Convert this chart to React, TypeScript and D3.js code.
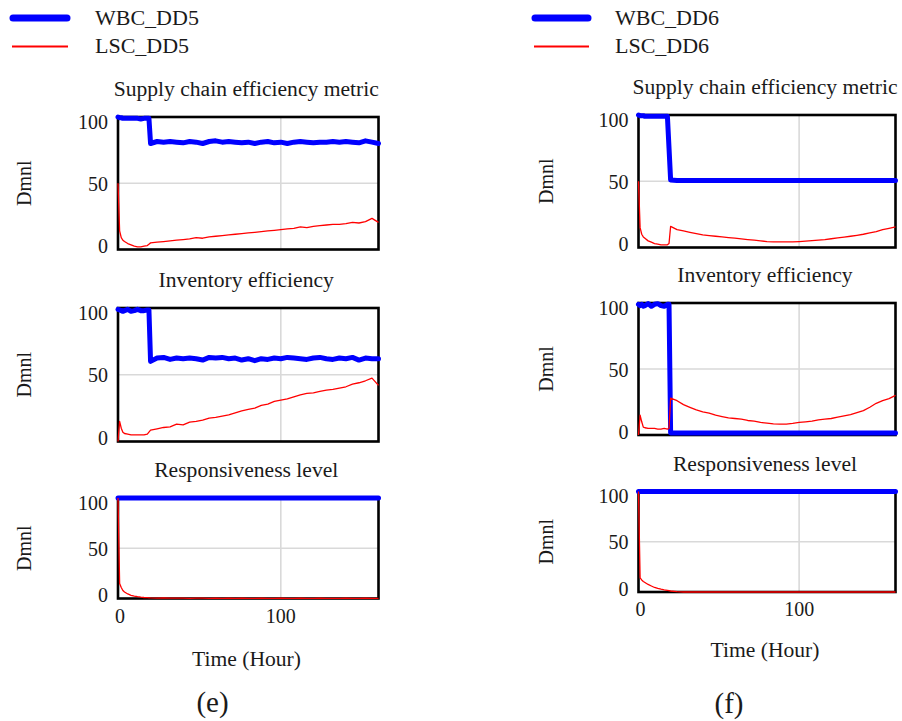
import React from "react";
import * as d3 from "d3";

const hours = [0, 1, 2, 3, 4, 6, 8, 10, 12, 14, 16, 18, 19, 20, 24, 28, 32, 36, 40, 44, 48, 52, 56, 60, 64, 68, 72, 76, 80, 84, 88, 92, 96, 100, 104, 108, 112, 116, 120, 124, 128, 132, 136, 140, 144, 148, 152, 156, 160];

const yTicks = [0, 50, 100];
const xTicks = [0, 100];
const chartTitles = ["Supply chain efficiency metric", "Inventory efficiency", "Responsiveness level"];
const legendE = ["WBC_DD5", "LSC_DD5"];
const legendF = ["WBC_DD6", "LSC_DD6"];
const unitLabel = "Dmnl";
const xAxisLabel = "Time (Hour)";
const panelLabels = ["(e)", "(f)"];

// ---- Panel (e) ----
const wbcE_supply = [100, 99.5, 99.5, 99, 99, 99, 99, 99, 99, 98.5, 99, 99, 99,
  80, 81.5, 81, 81.5, 81, 80.5, 81.5, 81, 80, 81.5,
  82, 81, 81.5, 81, 80.5, 81, 80, 81, 81.5, 80.5,
  81, 80, 81, 81.5, 81, 80.5, 81, 81, 81.5, 81,
  81.5, 81, 80.5, 82, 81, 80];
const lscE_supply = [50, 14, 9, 7, 6, 4.5, 3.5, 2.5, 2, 2, 2.5, 3, 4,
  5, 5.5, 6, 6.5, 7, 7.5, 8, 9, 8.5, 9.5,
  10, 10.5, 11, 11.5, 12, 12.5, 13, 13.5, 14, 14.5,
  15, 15.5, 16, 17, 16.5, 17.5, 18, 18.5, 19, 19,
  19.5, 20.5, 20, 21, 23.5, 20.5];

const wbcE_inv = [99, 98.5, 98, 97.5, 98, 99, 97.5, 98, 99, 98, 98, 98.5, 98.5,
  60, 62.5, 63, 61.5, 62.5, 62, 62.5, 62, 61, 63,
  62.5, 63, 62, 62.5, 61, 62, 60.5, 62, 61.5, 62.5,
  62, 63, 62.5, 62, 61.5, 62.5, 63, 62, 61.5, 62.5,
  62, 63, 61, 62.5, 62, 62];
const lscE_inv = [0, 15, 10, 7, 6, 5.5, 5, 5, 5, 5, 5, 5.5, 7,
  8.5, 9.5, 10.5, 11, 13, 12.5, 14.5, 15, 16, 17.5,
  18, 19, 20, 21.5, 23, 24, 25, 27, 28, 30,
  31, 32, 33.5, 35, 36, 36.5, 37.5, 38.5, 39, 40,
  41, 43, 44, 45.5, 47.5, 42];

const wbcE_resp = [100, 100, 100, 100, 100, 100, 100, 100, 100, 100, 100, 100, 100,
  100, 100, 100, 100, 100, 100, 100, 100, 100, 100,
  100, 100, 100, 100, 100, 100, 100, 100, 100, 100,
  100, 100, 100, 100, 100, 100, 100, 100, 100, 100,
  100, 100, 100, 100, 100, 100];
const lscE_resp = [100, 15, 11, 8, 6.5, 4.5, 3.2, 2.4, 1.8, 1.3, 1, 0.8, 0.7,
  0.6, 0.4, 0.5, 0.3, 0.4, 0.3, 0.2, 0.4, 0.3, 0.2,
  0.3, 0.2, 0.3, 0.2, 0.3, 0.2, 0.2, 0.3, 0.2, 0.2,
  0.3, 0.2, 0.2, 0.3, 0.2, 0.2, 0.3, 0.2, 0.2, 0.2,
  0.3, 0.2, 0.2, 0.3, 0.2, 0.2];

// ---- Panel (f) ----
const wbcF_supply = [100, 99.5, 99.5, 99.5, 99, 99, 99, 99, 99, 99, 99, 99, 75,
  51, 50.5, 50.5, 50.5, 50.5, 50.5, 50.5, 50.5, 50.5, 50.5,
  50.5, 50.5, 50.5, 50.5, 50.5, 50.5, 50.5, 50.5, 50.5, 50.5,
  50.5, 50.5, 50.5, 50.5, 50.5, 50.5, 50.5, 50.5, 50.5, 50.5,
  50.5, 50.5, 50.5, 50.5, 50.5, 50.5];
const lscF_supply = [50, 15, 10, 8, 7, 5, 4, 3, 2.5, 2, 2, 2, 3,
  16, 13.5, 12.5, 11.5, 10.5, 9.5, 9, 8.5, 8, 7.5,
  7, 6.5, 6, 5.5, 5, 4.5, 4.3, 4.2, 4.2, 4.3,
  4.5, 4.8, 5.2, 5.6, 6, 6.6, 7.2, 7.8, 8.5, 9.2,
  10, 11, 12, 13.5, 14.5, 15.5];

const wbcF_inv = [99, 98, 99, 97.5, 98, 99.5, 97.5, 99, 99.5, 98, 97.5, 99, 99,
  1.5, 1.5, 1.5, 1.5, 1.5, 1.5, 1.5, 1.5, 1.5, 1.5,
  1.5, 1.5, 1.5, 1.5, 1.5, 1.5, 1.5, 1.5, 1.5, 1.5,
  1.5, 1.5, 1.5, 1.5, 1.5, 1.5, 1.5, 1.5, 1.5, 1.5,
  1.5, 1.5, 1.5, 1.5, 1.5, 1.5];
const lscF_inv = [0, 15, 10, 6, 5.5, 5, 5, 5, 4.5, 4.5, 5, 4.5, 5,
  28, 26, 23, 21, 19, 17.5, 16.5, 15, 14, 13,
  12.5, 12, 11, 10.5, 9.5, 9, 8.5, 8.3, 8.3, 8.8,
  9.5, 10, 10.5, 11.5, 12, 12.5, 13.5, 14.5, 15.5, 17,
  18.5, 21, 24, 26, 27.5, 30];

const wbcF_resp = [100, 100, 100, 100, 100, 100, 100, 100, 100, 100, 100, 100, 100,
  100, 100, 100, 100, 100, 100, 100, 100, 100, 100,
  100, 100, 100, 100, 100, 100, 100, 100, 100, 100,
  100, 100, 100, 100, 100, 100, 100, 100, 100, 100,
  100, 100, 100, 100, 100, 100];
const lscF_resp = [100, 14, 12, 10.5, 9.5, 7.5, 6, 4.5, 3.5, 2.8, 2.2, 1.7, 1.4,
  1, 0.3, 0, 0, 0, 0, 0, 0, 0, 0,
  0, 0, 0, 0, 0, 0, 0, 0, 0, 0,
  0, 0, 0, 0, 0, 0, 0, 0, 0, 0,
  0, 0, 0, 0, 0, 0];

const FONT = "'Liberation Serif', 'Times New Roman', serif";
const TEXT = "#1a1a1a";
const BLUE = "#0000ff";
const RED = "#ff0000";

type PanelProps = {
  left: number; right: number; top: number; bottom: number;
  title: string; blue: number[]; red: number[]; showX: boolean; unitX: number;
};

function Chart({ left, right, top, bottom, title, blue, red, showX, unitX }: PanelProps) {
  const x = d3.scaleLinear().domain([0, 160]).range([left, right]);
  const y = d3.scaleLinear().domain([0, 100]).range([bottom, top]);
  const line = d3.line<number>().x((_, i) => x(hours[i])).y((d) => y(d));
  const midY = (top + bottom) / 2;
  return (
    <g>
      <text x={(left + right) / 2 - 2} y={top - 21} textAnchor="middle" fontSize={21.6} fontFamily={FONT} fill={TEXT}>{title}</text>
      <line x1={left} x2={right} y1={y(50)} y2={y(50)} stroke="#d9d9d9" strokeWidth={1.6} />
      <line x1={x(100)} x2={x(100)} y1={top} y2={bottom} stroke="#d9d9d9" strokeWidth={1.6} />
      <rect x={left} y={top} width={right - left} height={bottom - top} fill="none" stroke="#000" strokeWidth={2.6} />
      {yTicks.map((t) => (
        <text key={t} x={left - 10} y={y(t) + 7.5 + (t - 50) * 0.08} textAnchor="end" fontSize={20} fontFamily={FONT} fill={TEXT}>{t}</text>
      ))}
      {showX && xTicks.map((t) => (
        <text key={t} x={x(t) + (t === 0 ? 2 : 0)} y={bottom + 24} textAnchor="middle" fontSize={20} fontFamily={FONT} fill={TEXT}>{t}</text>
      ))}
      <text transform={`translate(${unitX},${midY}) rotate(-90)`} textAnchor="middle" fontSize={20} fontFamily={FONT} fill={TEXT}>{unitLabel}</text>
      <path d={line(blue) || ""} fill="none" stroke={BLUE} strokeWidth={5} strokeLinejoin="round" strokeLinecap="round" />
      <path d={line(red) || ""} fill="none" stroke={RED} strokeWidth={1.3} strokeLinejoin="round" />
    </g>
  );
}

function Legend({ x1, x2, textX, labels }: { x1: number; x2: number; textX: number; labels: string[] }) {
  return (
    <g>
      <line x1={x1 + 3} x2={x2 - 3} y1={18} y2={18} stroke={BLUE} strokeWidth={7} strokeLinecap="round" />
      <text x={textX} y={25} fontSize={22} fontFamily={FONT} fill={TEXT}>{labels[0]}</text>
      <line x1={x1 + 2} x2={x2 - 2} y1={46.5} y2={46.5} stroke={RED} strokeWidth={1.8} />
      <text x={textX} y={53} fontSize={22} fontFamily={FONT} fill={TEXT}>{labels[1]}</text>
    </g>
  );
}

export default function App() {
  const eL = 118, eR = 378.5;
  const fL = 638.5, fR = 895.5;
  return (
    <svg width={902} height={721} style={{ position: "absolute", left: 0, top: 0, background: "#fff" }}>
      <rect x={0} y={0} width={902} height={721} fill="#fff" />
      <Legend x1={10} x2={70} textX={95} labels={legendE} />
      <Legend x1={532} x2={591} textX={615} labels={legendF} />

      <Chart left={eL} right={eR} top={117} bottom={249.5} title={chartTitles[0]} blue={wbcE_supply} red={lscE_supply} showX={false} unitX={31} />
      <Chart left={eL} right={eR} top={308} bottom={441.5} title={chartTitles[1]} blue={wbcE_inv} red={lscE_inv} showX={false} unitX={31} />
      <Chart left={eL} right={eR} top={498} bottom={598.5} title={chartTitles[2]} blue={wbcE_resp} red={lscE_resp} showX={true} unitX={31} />

      <Chart left={fL} right={fR} top={115} bottom={247.5} title={chartTitles[0]} blue={wbcF_supply} red={lscF_supply} showX={false} unitX={553} />
      <Chart left={fL} right={fR} top={303} bottom={435} title={chartTitles[1]} blue={wbcF_inv} red={lscF_inv} showX={false} unitX={553} />
      <Chart left={fL} right={fR} top={491.5} bottom={592} title={chartTitles[2]} blue={wbcF_resp} red={lscF_resp} showX={true} unitX={553} />

      <text x={246.5} y={666} textAnchor="middle" fontSize={21.6} fontFamily={FONT} fill={TEXT}>{xAxisLabel}</text>
      <text x={765} y={656.5} textAnchor="middle" fontSize={21.6} fontFamily={FONT} fill={TEXT}>{xAxisLabel}</text>
      <text x={212.5} y={712} textAnchor="middle" fontSize={29} fontFamily={FONT} fill={TEXT}>{panelLabels[0]}</text>
      <text x={729} y={713} textAnchor="middle" fontSize={29} fontFamily={FONT} fill={TEXT}>{panelLabels[1]}</text>
    </svg>
  );
}
